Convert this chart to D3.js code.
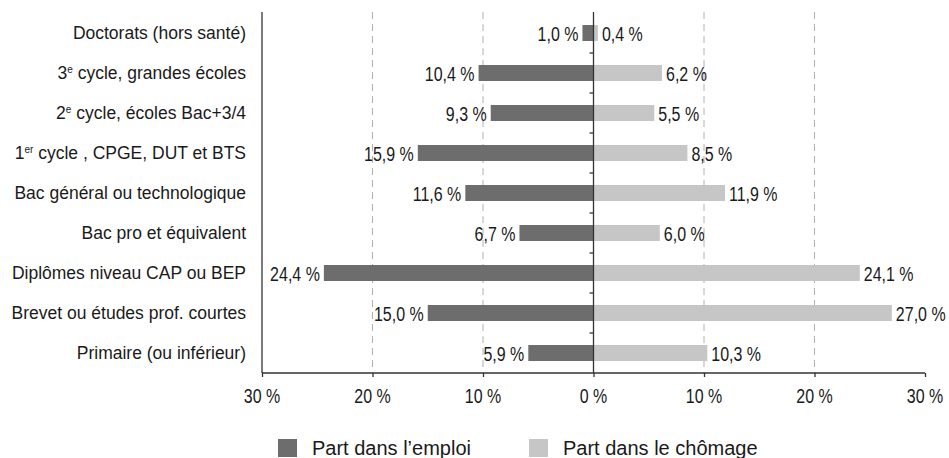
<!DOCTYPE html>
<html><head><meta charset="utf-8">
<script src="https://cdn.jsdelivr.net/npm/d3@7"></script>
<style>
body{margin:0;background:#fff;}
svg{display:block;}
.cat{font-family:"Liberation Sans",Arial,sans-serif;font-size:17.5px;fill:#1a1a1a;}
.val{font-family:"Liberation Sans",Arial,sans-serif;font-size:19.5px;fill:#1a1a1a;}
.leg{font-family:"Liberation Sans",Arial,sans-serif;font-size:20px;fill:#1a1a1a;}
</style></head><body>
<svg id="c" width="949" height="458"></svg>
<script>
const categories = [
  ["Doctorats (hors santé)"],
  ["3", "e", " cycle, grandes écoles"],
  ["2", "e", " cycle, écoles Bac+3/4"],
  ["1", "er", " cycle , CPGE, DUT et BTS"],
  ["Bac général ou technologique"],
  ["Bac pro et équivalent"],
  ["Diplômes niveau CAP ou BEP"],
  ["Brevet ou études prof. courtes"],
  ["Primaire (ou inférieur)"]
];
const emploi   = [1.0, 10.4, 9.3, 15.9, 11.6, 6.7, 24.4, 15.0, 5.9];
const chomage  = [0.4, 6.2, 5.5, 8.5, 11.9, 6.0, 24.1, 27.0, 10.3];
const xTicks   = [-30, -20, -10, 0, 10, 20, 30];
const gridTicks = [-20, -10, 10, 20];
const seriesNames = ["Part dans l’emploi", "Part dans le chômage"];
const colors = ["#6d6d6d", "#c6c6c6"];

const SX = 0.82; // condensed look for numeric labels
const fmt = v => d3.format(".1f")(Math.abs(v)).replace(".", ",") + " %";
const svg = d3.select("#c");
const x = d3.scaleLinear().domain([-30, 30]).range([262, 925]);
const idx = d3.range(categories.length);
const y = d3.scaleBand().domain(idx).range([13, 373]).paddingInner(0.6).paddingOuter(0.3);
const step = y.step();
const axisY = 373;

// gridlines
svg.append("g").selectAll("line").data(gridTicks).join("line")
  .attr("x1", d => x(d)).attr("x2", d => x(d))
  .attr("y1", 12).attr("y2", axisY)
  .attr("stroke", "#b0b0b0").attr("stroke-width", 1).attr("stroke-dasharray", "7,5");

// bars
const g = svg.append("g");
g.selectAll(".be").data(idx).join("rect").attr("class", "be")
  .attr("x", i => x(-emploi[i])).attr("width", i => x(0) - x(-emploi[i]))
  .attr("y", i => y(i)).attr("height", y.bandwidth()).attr("fill", colors[0]);
g.selectAll(".bc").data(idx).join("rect").attr("class", "bc")
  .attr("x", x(0)).attr("width", i => x(chomage[i]) - x(0))
  .attr("y", i => y(i)).attr("height", y.bandwidth()).attr("fill", colors[1]);

// value labels (condensed via horizontal scale)
function condensed(sel, px, py, anchor, txt) {
  sel.append("g").attr("transform", `translate(${px},${py}) scale(${SX},1)`)
    .append("text").attr("class", "val").attr("text-anchor", anchor).text(txt);
}
idx.forEach(i => {
  const cy = y(i) + y.bandwidth() / 2 + 7.5;
  condensed(g, x(-emploi[i]) - 4, cy, "end", fmt(emploi[i]));
  condensed(g, x(chomage[i]) + 4, cy, "start", fmt(chomage[i]));
});

// category labels
const cl = svg.append("g").selectAll("text").data(idx).join("text").attr("class", "cat")
  .attr("x", 246).attr("y", i => y(i) + y.bandwidth() / 2 + 6).attr("text-anchor", "end");
cl.each(function(i) {
  const parts = categories[i];
  const t = d3.select(this);
  if (parts.length === 1) { t.text(parts[0]); return; }
  t.append("tspan").text(parts[0]);
  t.append("tspan").attr("font-size", "10px").attr("dy", "-6").text(parts[1]);
  t.append("tspan").attr("dy", "6").text(parts[2]);
});

// left axis line
svg.append("line").attr("x1", 262).attr("x2", 262).attr("y1", 12).attr("y2", axisY)
  .attr("stroke", "#333").attr("stroke-width", 1.3);

// center axis
svg.append("line").attr("x1", x(0)).attr("x2", x(0)).attr("y1", 12).attr("y2", axisY)
  .attr("stroke", "#333").attr("stroke-width", 1.3);
svg.append("g").selectAll("line").data(d3.range(1, categories.length)).join("line")
  .attr("x1", x(0) - 4).attr("x2", x(0)).attr("y1", i => 13 + i * step).attr("y2", i => 13 + i * step)
  .attr("stroke", "#333").attr("stroke-width", 1.3);

// bottom axis
const xAxis = d3.axisBottom(x).tickValues(xTicks).tickSize(4).tickFormat(() => "");
const ax = svg.append("g").attr("transform", `translate(0,${axisY})`).call(xAxis);
ax.select(".domain").attr("stroke", "#333").attr("stroke-width", 1.3).attr("d", "M262,0H925");
ax.selectAll(".tick line").attr("stroke", "#333").attr("stroke-width", 1.3);
xTicks.forEach(t => condensed(svg, x(t), axisY + 30, "middle", Math.abs(t) + " %"));

// legend
const leg = svg.append("g");
const lx = [278, 529];
seriesNames.forEach((n, k) => {
  leg.append("rect").attr("x", lx[k]).attr("y", 439).attr("width", 19).attr("height", 18).attr("fill", colors[k]);
  leg.append("text").attr("class", "leg").attr("x", lx[k] + 34).attr("y", 455).text(n);
});
</script>
</body></html>
